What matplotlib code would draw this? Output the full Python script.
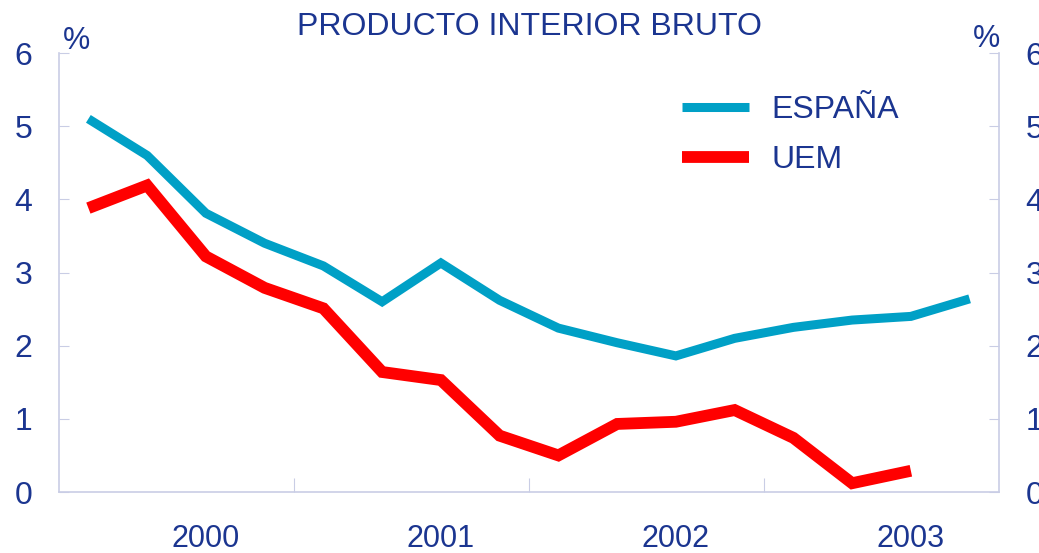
import numpy as np
import matplotlib.pyplot as plt

plt.rcParams['font.family'] = ['Liberation Sans', 'DejaVu Sans']

# Quarterly growth rates (%), 16 quarters
espana = [5.10, 4.60, 3.81, 3.40, 3.09, 2.60, 3.13, 2.62,
          2.24, 2.04, 1.86, 2.10, 2.25, 2.35, 2.40, 2.64]
uem = [3.88, 4.19, 3.22, 2.79, 2.51, 1.64, 1.53, 0.77,
       0.50, 0.93, 0.96, 1.12, 0.74, 0.12, 0.29]
years = ['2000', '2001', '2002', '2003']
year_pos = [2, 6, 10, 14]

navy = '#1B3590'
axis_col = '#C9CDE5'

fig = plt.figure(figsize=(10.39, 5.53), dpi=100)
ax = fig.add_axes([59 / 1039, 61 / 553, 940 / 1039, 439 / 553])

ax.plot(np.arange(len(espana)), espana, color='#00A0C6', lw=6.5,
        solid_capstyle='butt', solid_joinstyle='miter', label='ESPAÑA')
ax.plot(np.arange(len(uem)), uem, color='#FF0000', lw=8.5,
        solid_capstyle='butt', solid_joinstyle='miter', label='UEM')

ax.set_xlim(-0.5, 15.5)
ax.set_ylim(0, 6)

for s in ['left', 'right', 'bottom']:
    ax.spines[s].set_color(axis_col)
    ax.spines[s].set_linewidth(1.2)
ax.spines['top'].set_visible(False)

ax.set_yticks(range(7))
ax.tick_params(axis='y', direction='in', length=7, color=axis_col,
               labelsize=23, labelcolor=navy, pad=19,
               left=True, right=True, labelleft=True, labelright=True)

ax.set_xticks([3.5, 7.5, 11.5])
ax.set_xticklabels([])
ax.set_xticks(year_pos, minor=True)
ax.set_xticklabels(years, minor=True)
ax.tick_params(axis='x', which='major', direction='in', length=10, color=axis_col)
ax.tick_params(axis='x', which='minor', length=0, labelsize=22,
               labelcolor=navy, pad=23)

fig.text(529 / 1039, 1 - 27 / 553, 'PRODUCTO INTERIOR BRUTO', ha='center',
         va='center', fontsize=23, color=navy)
fig.text(77 / 1039, 1 - 41 / 553, '%', ha='center', va='center',
         fontsize=22, color=navy)
fig.text(987 / 1039, 1 - 39 / 553, '%', ha='center', va='center',
         fontsize=22, color=navy)

leg = ax.legend(loc='upper left', bbox_to_anchor=(0.632, 0.97), frameon=False,
                fontsize=23, labelcolor=navy, handlelength=2.1,
                handletextpad=0.7, labelspacing=0.62)

fig.savefig('out.png', dpi=100)
